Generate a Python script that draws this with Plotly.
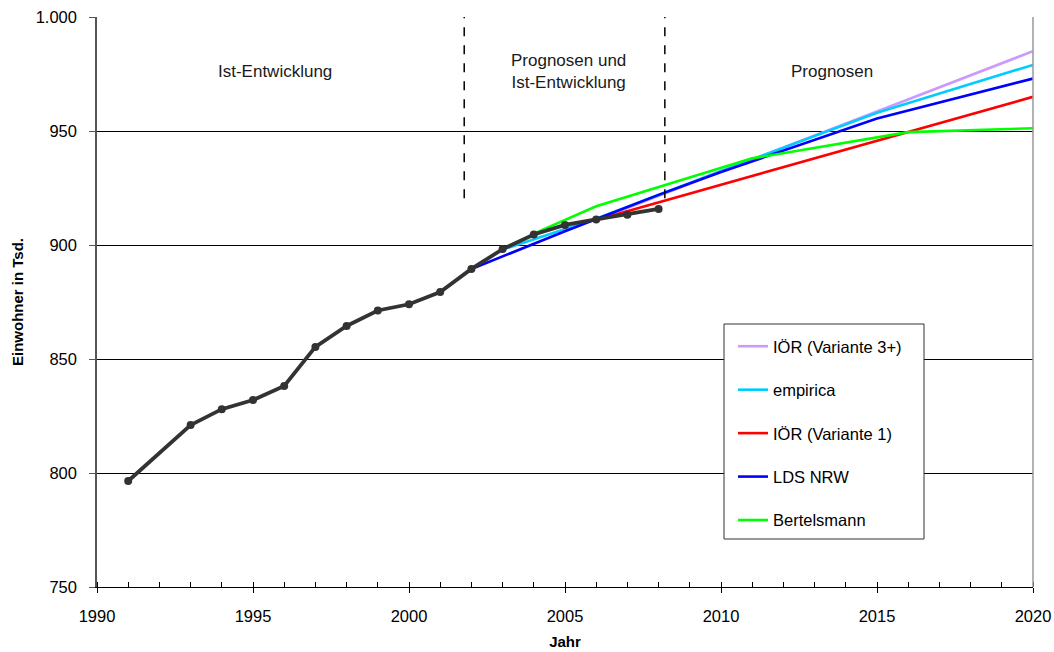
import plotly.graph_objects as go

# Ist-Entwicklung
ist_years = [1991, 1993, 1994, 1995, 1996, 1997, 1998, 1999, 2000, 2001, 2002, 2003, 2004, 2005, 2006, 2007, 2008]
ist_vals = [796.5, 821.0, 828.0, 832.0, 838.2, 855.3, 864.5, 871.3, 874.0, 879.4, 889.5, 898.2, 904.6, 908.8, 911.2, 913.3, 915.8]

# Prognosen
ior3_years = [2006, 2011, 2020]
ior3_vals = [911.0, 937.5, 985.0]

empirica_years = [2003, 2006, 2010, 2015, 2020]
empirica_vals = [898.0, 911.5, 932.5, 958.0, 979.0]

ior1_years = [2006, 2020]
ior1_vals = [911.0, 965.0]

lds_years = [2002, 2005, 2008, 2010, 2015, 2020]
lds_vals = [889.5, 906.0, 922.0, 932.0, 955.5, 973.0]

bert_years = [2004, 2006, 2011, 2016, 2020]
bert_vals = [905.0, 917.0, 938.0, 949.5, 951.2]

y_ticks = [750, 800, 850, 900, 950, 1000]
y_ticktext = ["750", "800", "850", "900", "950", "1.000"]
x_ticks = [1990, 1995, 2000, 2005, 2010, 2015, 2020]

FONT = "Liberation Sans, Arial, sans-serif"

fig = go.Figure()

series = [
    ("IÖR (Variante 3+)", ior3_years, ior3_vals, "#CC99FF"),
    ("empirica", empirica_years, empirica_vals, "#00CCFF"),
    ("IÖR (Variante 1)", ior1_years, ior1_vals, "#FF0000"),
    ("LDS NRW", lds_years, lds_vals, "#0000FF"),
    ("Bertelsmann", bert_years, bert_vals, "#00FF00"),
]
for i, (name, xs, ys, col) in enumerate(series):
    fig.add_trace(go.Scatter(x=xs, y=ys, name=name, mode="lines",
                             line=dict(color=col, width=2.6),
                             legendgroup=f"g{i}", cliponaxis=False))

fig.add_trace(go.Scatter(x=ist_years, y=ist_vals, name="Ist", mode="lines+markers",
                         line=dict(color="#333333", width=3.8),
                         marker=dict(color="#333333", size=8),
                         showlegend=False, cliponaxis=False))

# dashed separators
for xv in [2001.77, 2008.2]:
    fig.add_shape(type="line", x0=xv, x1=xv, y0=920.5, y1=1000, xref="x", yref="y",
                  line=dict(color="black", width=1.5, dash="dash"), layer="above")

# right border of plot area
fig.add_shape(type="line", x0=1, x1=1, y0=0, y1=1, xref="paper", yref="paper",
              line=dict(color="#999999", width=1.5))

# legend box
fig.add_shape(type="rect", x0=(724 - 97) / 936, x1=(924 - 97) / 936,
              y0=(587 - 539) / 570, y1=(587 - 324) / 570, xref="paper", yref="paper",
              line=dict(color="#333333", width=1), fillcolor="white", layer="above")

annots = [
    (1995.7, 976.3, "Ist-Entwicklung"),
    (2005.1, 976.3, "Prognosen und<br>Ist-Entwicklung"),
    (2013.55, 976.3, "Prognosen"),
]
for xv, yv, t in annots:
    fig.add_annotation(x=xv, y=yv, text=t, showarrow=False, xref="x", yref="y",
                       font=dict(family=FONT, size=17, color="#1a1a1a"), align="center")

fig.update_layout(
    width=1054, height=652,
    margin=dict(l=97, r=21, t=17, b=65),
    paper_bgcolor="white", plot_bgcolor="white",
    font=dict(family=FONT, size=16.5, color="black"),
    showlegend=True,
    legend=dict(x=(733 - 97) / 936, y=(587 - 329) / 570, xanchor="left", yanchor="top",
                bgcolor="rgba(0,0,0,0)", borderwidth=0, traceorder="grouped",
                tracegroupgap=19, font=dict(family=FONT, size=16.5, color="black"),
                itemwidth=30),
    xaxis=dict(range=[1990, 2020], tickvals=x_ticks, ticks="outside", ticklen=5,
               tickcolor="black", showline=True, linecolor="black", linewidth=1,
               showgrid=False, zeroline=False, automargin=False,
               ticklabelstandoff=9,
               minor=dict(dtick=1, ticks="inside", ticklen=5, tickcolor="black", showgrid=False),
               tickfont=dict(family=FONT, size=16.5),
               title=dict(text="<b>Jahr</b>", font=dict(family=FONT, size=15), standoff=12)),
    yaxis=dict(range=[750, 1000], tickvals=y_ticks, ticktext=y_ticktext, ticks="outside",
               ticklen=6, tickcolor="#555555", showline=True, linecolor="#555555", linewidth=1.5,
               showgrid=True, gridcolor="black", gridwidth=1, zeroline=False, automargin=False,
               ticklabelstandoff=9,
               tickfont=dict(family=FONT, size=16.5),
               title=dict(text="<b>Einwohner in Tsd.</b>", font=dict(family=FONT, size=15), standoff=8)),
)

fig.write_html("out.html", config={"displayModeBar": False},
               post_script="document.body.style.margin='0';document.body.style.overflow='hidden';")
